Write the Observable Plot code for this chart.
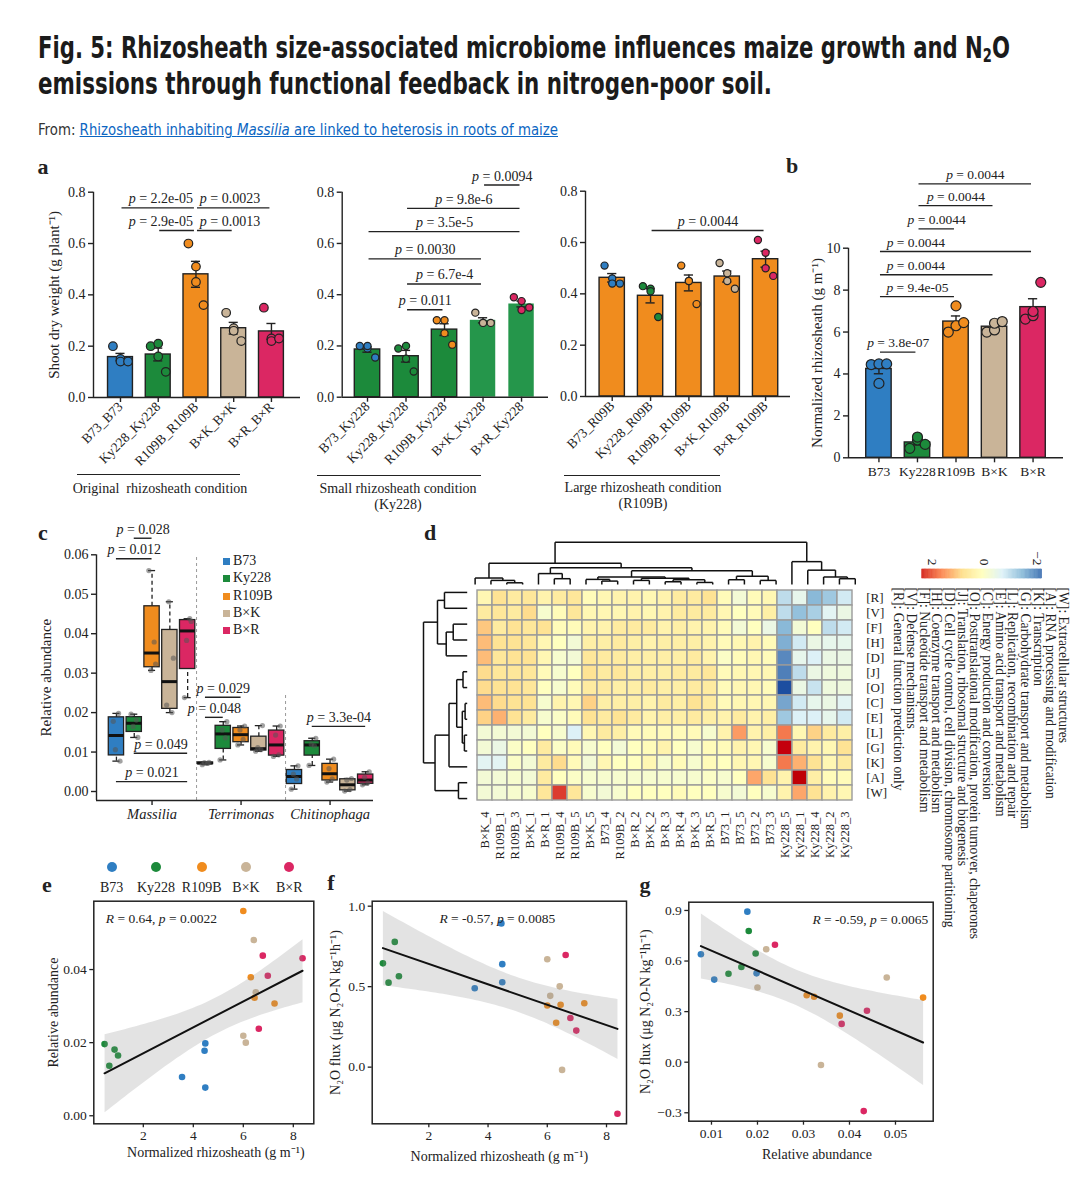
<!DOCTYPE html>
<html>
<head>
<meta charset="utf-8">
<script src="https://cdn.jsdelivr.net/npm/d3@7"></script>
<script src="https://cdn.jsdelivr.net/npm/@observablehq/plot@0.6"></script>
<style>
  body { margin: 0; background: #fff; }
  #fig { position: relative; width: 1080px; height: 1180px; overflow: hidden; background: #fff;
         font-family: "Liberation Serif", "Times New Roman", Times, serif; color: #222; }
  .abs { position: absolute; white-space: nowrap; }
  .title { font-family: "Liberation Sans Narrow", "DejaVu Sans Condensed", "Roboto", sans-serif; font-weight: 700;
           font-size: 30px; line-height: 36px; color: #1b1b1b; left: 38px; }
  .title sub { font-size: 0.62em; vertical-align: -0.22em; line-height: 0; }
  .from { font-family: "Liberation Sans Narrow", "DejaVu Sans Condensed", "Roboto", sans-serif; font-size: 15px;
          line-height: 15px; color: #333; left: 38px; top: 123px; }
  .from a { color: #0c66c2; text-decoration: underline; }
  .letter { font-weight: 700; font-size: 22px; line-height: 22px; transform: translate(-50%, -50%); }
  .cap { font-size: 14px; line-height: 15px; transform: translate(-50%, -50%); text-align: center; }
  .hline { height: 0; border-top: 1.5px solid #222; }
  .sw { width: 7px; height: 7px; }
</style>
</head>
<body>
<div id="fig"></div>
<script>
// ---------- shared categories ----------
const genotypes = ["B73", "Ky228", "R109B", "B×K", "B×R"];
const genotypeColors = ["#2f7ec2", "#1c8a3b", "#f08c1e", "#c9b498", "#db2763"];
const color = Object.fromEntries(genotypes.map((g, i) => [g, genotypeColors[i]]));

// ---------- a: shoot dry weight (g per plant), four plants per inoculum ----------
const originalLabels = ["B73_B73", "Ky228_Ky228", "R109B_R109B", "B×K_B×K", "B×R_B×R"];
const originalShoot = [[0.20, 0.15, 0.14, 0.14], [0.20, 0.21, 0.16, 0.10], [0.60, 0.51, 0.45, 0.36], [0.33, 0.27, 0.26, 0.22], [0.35, 0.23, 0.22, 0.23]];
const originalTests = [
  {from: "B73_B73", to: "R109B_R109B", y: 0.739, p: "2.2e-05"},
  {from: "R109B_R109B", to: "B×R_B×R", y: 0.739, p: "0.0023"},
  {from: "Ky228_Ky228", to: "R109B_R109B", y: 0.651, p: "2.9e-05"},
  {from: "R109B_R109B", to: "B×K_B×K", y: 0.651, p: "0.0013"}
];

const smallLabels = ["B73_Ky228", "Ky228_Ky228", "R109B_Ky228", "B×K_Ky228", "B×R_Ky228"];
const smallShoot = [[0.20, 0.19, 0.20, 0.155], [0.19, 0.20, 0.15, 0.10], [0.30, 0.30, 0.25, 0.205], [0.33, 0.29, 0.29, 0.29], [0.39, 0.375, 0.34, 0.35]];
const smallTests = [
  {from: "B×K_Ky228", to: "B×R_Ky228", y: 0.828, p: "0.0094"},
  {from: "Ky228_Ky228", to: "B×R_Ky228", y: 0.737, p: "9.8e-6"},
  {from: "B73_Ky228", to: "B×R_Ky228", y: 0.646, p: "3.5e-5"},
  {from: "B73_Ky228", to: "B×K_Ky228", y: 0.540, p: "0.0030"},
  {from: "Ky228_Ky228", to: "B×K_Ky228", y: 0.442, p: "6.7e-4"},
  {from: "Ky228_Ky228", to: "R109B_Ky228", y: 0.341, p: "0.011"}
];

const largeLabels = ["B73_R09B", "Ky228_R09B", "R109B_R109B", "B×K_R109B", "B×R_R109B"];
const largeShoot = [[0.51, 0.46, 0.44, 0.44], [0.43, 0.42, 0.41, 0.31], [0.51, 0.45, 0.45, 0.36], [0.52, 0.48, 0.45, 0.42], [0.61, 0.56, 0.50, 0.47]];
const largeTests = [{from: "Ky228_R09B", to: "B×R_R109B", y: 0.647, p: "0.0044"}];

// ---------- per-sample measurements (b, c Massilia, e, f, g) ----------
const sampleGenotype = ["B73", "B73", "B73", "B73", "Ky228", "Ky228", "Ky228", "Ky228", "R109B", "R109B", "R109B", "R109B",
                        "B×K", "B×K", "B×K", "B×K", "B×R", "B×R", "B×R", "B×R"];
const sampleRhizosheath = [4.45, 4.48, 3.55, 4.48, 0.45, 0.85, 0.99, 0.64, 6.0, 6.3, 7.25, 6.45, 6.0, 6.1, 6.42, 6.5, 6.62, 6.78, 6.98, 8.37];
const sampleMassilia = [0.0178, 0.0198, 0.0106, 0.0077, 0.0196, 0.0181, 0.0165, 0.0137, 0.0560, 0.0379, 0.0307, 0.0323,
                        0.0219, 0.0200, 0.0481, 0.0338, 0.0238, 0.0438, 0.0383, 0.0431];
const sampleN2O = [0.893, 0.527, 0.490, 0.640, 0.645, 0.778, 0.565, 0.525, 0.383, 0.276, 0.397, 0.388,
                   0.670, 0.443, 0.502, -0.017, 0.697, 0.305, 0.227, -0.290];

const rhizoTests = [
  {from: "B73", to: "Ky228", y: 5.04, p: "3.8e-07"},
  {from: "B73", to: "R109B", y: 7.69, p: "9.4e-05"},
  {from: "B73", to: "B×K", y: 8.73, p: "0.0044"},
  {from: "B73", to: "B×R", y: 9.84, p: "0.0044"},
  {from: "Ky228", to: "R109B", y: 10.92, p: "0.0044"},
  {from: "Ky228", to: "B×K", y: 12.03, p: "0.0044"},
  {from: "Ky228", to: "B×R", y: 13.07, p: "0.0044"}
];

// ---------- c: relative abundance of three genera ----------
const genera = ["Massilia", "Terrimonas", "Chitinophaga"];
const terrimonas = [[0.0068, 0.0071, 0.0073, 0.0074], [0.0080, 0.0136, 0.0156, 0.0177], [0.0118, 0.0132, 0.0156, 0.0166],
                    [0.0102, 0.0106, 0.0111, 0.0167], [0.0089, 0.0093, 0.0143, 0.0166]];
const chitinophaga = [[0.0006, 0.0032, 0.0044, 0.0065], [0.0066, 0.0116, 0.0120, 0.0135], [0.0024, 0.0032, 0.0058, 0.0082],
                      [0.0001, 0.0005, 0.0029, 0.0033], [0.0017, 0.0022, 0.0036, 0.0050]];
const abundanceTests = [
  {genus: "Massilia", from: "Ky228", to: "R109B", y: 0.0642, p: "0.028"},
  {genus: "Massilia", from: "B73", to: "R109B", y: 0.0590, p: "0.012"},
  {genus: "Massilia", from: "Ky228", to: "B×R", y: 0.0097, p: "0.049"},
  {genus: "Massilia", from: "B73", to: "B×R", y: 0.0025, p: "0.021"},
  {genus: "Terrimonas", from: "B73", to: "R109B", y: 0.0239, p: "0.029"},
  {genus: "Terrimonas", from: "B73", to: "Ky228", y: 0.0188, p: "0.048"},
  {genus: "Chitinophaga", from: "Ky228", to: "B×R", y: 0.0165, p: "3.3e-04"}
];

// ---------- d: COG category z-scores ----------
const cogCodes = ["R", "V", "F", "H", "D", "J", "O", "C", "E", "L", "G", "K", "A", "W"];
const heatSamples = ["B×K_4", "R109B_1", "R109B_3", "B×K_1", "B×R_1", "R109B_4", "R109B_5", "B×K_5", "B73_4", "R109B_2",
                     "B×R_2", "B×K_2", "B×R_3", "B×R_4", "B×K_3", "B×R_5", "B73_1", "B73_5", "B73_2", "B73_3",
                     "Ky228_5", "Ky228_1", "Ky228_4", "Ky228_2", "Ky228_3"];
const zScores = [
  [0.3, 0.8, 0.6, 0.7, 0.4, 0.6, 0.7, 0.2, 0.3, 0.4, 0.4, 0.3, 0.4, 0.6, 0.6, 0.8, 0.2, -0.2, 0.2, 0.3, -1.0, -0.5, -1.5, -1.3, -0.8],
  [0.6, 0.7, 0.6, 0.9, -0.1, 0.2, 0.7, 0.3, 0.3, 0.3, 0.4, 0.3, 0.4, 0.6, 0.6, 0.6, 0.3, 0.1, 0.2, 0.5, -1.0, -1.4, -1.2, -0.6, -0.4],
  [1.1, 0.6, 0.8, 0.7, 0.8, 0.2, 0.2, 0.4, 0.4, 0.6, 0.6, 0.6, 0.4, 0.5, 0.4, 0.4, 0.2, -0.2, 0.1, -0.4, -1.5, -0.2, 0.1, -1.0, -0.8],
  [1.2, 0.8, 0.8, 0.7, 0.3, 0.1, -0.2, 0.5, 0.5, 0.6, 0.5, 0.4, 0.5, 0.5, 0.5, 0.4, 0.2, 0.3, 0.4, 0.2, -1.6, -0.8, -0.4, -0.5, -0.5],
  [1.2, 0.7, 0.8, 0.8, 0.3, -0.1, -0.2, 0.7, 0.6, 0.6, 0.5, 0.5, 0.5, 0.5, 0.6, 0.4, 0.0, 0.2, 0.3, 0.2, -2.0, -0.5, -0.7, -0.4, -0.4],
  [0.9, 0.7, 0.7, 0.7, 0.2, -0.1, 0.1, 0.8, 0.6, 0.7, 0.5, 0.5, 0.5, 0.6, 0.6, 0.7, 0.2, 0.3, 0.3, 0.3, -2.1, -1.0, -0.4, -0.3, -0.3],
  [0.9, 0.8, 0.8, 0.7, 0.1, -0.1, 0.2, 0.6, 0.6, 0.5, 0.5, 0.6, 0.5, 0.5, 0.6, 0.6, 0.2, 0.3, 0.3, 0.2, -2.6, -0.4, -0.9, -0.3, -0.3],
  [1.2, 0.9, 0.8, 0.8, -0.1, 0.4, 0.3, 1.0, 0.5, 0.5, 0.5, 0.4, 0.6, 0.5, 0.8, 0.6, 0.2, 0.3, 0.3, 0.3, -1.7, -0.8, -0.5, -0.4, -0.6],
  [1.0, 1.3, 0.8, 0.6, -0.1, 0.0, 0.2, 0.8, 0.6, 0.8, 0.6, 0.4, 0.5, 0.5, 0.6, 0.5, 0.4, 0.6, 0.4, 0.5, -1.3, -0.7, -0.7, -0.5, -0.8],
  [-0.2, -0.2, -0.2, -0.2, 0.1, -0.1, -0.7, 0.3, 0.6, 0.5, 0.2, 0.2, 0.2, 0.2, 0.2, -0.1, 0.4, 1.5, 0.4, 0.5, 1.8, 0.3, 1.0, 0.6, 0.5],
  [-0.2, -0.4, 0.0, 0.1, 0.6, 0.0, 0.2, -0.1, 0.1, -0.2, 0.1, 0.2, 0.4, 0.1, -0.1, 0.2, 0.2, 0.4, 0.3, -0.1, 2.8, 0.6, 0.4, 0.3, 0.8],
  [-0.6, -0.6, 0.0, -0.2, 0.6, 0.9, 0.2, -0.2, 0.3, 0.1, 0.1, 0.3, -0.1, 0.2, -0.1, 0.2, 0.1, 0.3, 0.3, -0.1, 1.8, 1.3, 0.8, 0.3, 0.6],
  [-0.2, -0.2, -0.1, -0.2, 0.6, 0.1, 0.0, -0.1, -0.1, -0.1, -0.1, -0.1, -0.1, -0.1, -0.1, 0.0, -0.1, 0.1, 1.4, 0.8, 0.4, 2.9, 0.5, 0.2, 0.2],
  [-0.2, -0.2, -0.1, -0.1, 0.7, 2.3, 0.7, -0.1, -0.2, -0.1, 0.1, 0.1, 0.1, 0.2, 0.1, 0.1, -0.1, -0.2, 0.1, -0.1, 0.4, 1.4, 0.8, 0.4, 0.3]
];
// hierarchical clustering trees: [left, right, height]; leaves are column / row indices
const sampleTree = [
  [[0, [1, [2, 3, 5], 12], 19],
   [[4, [5, 6, 17], 32],
    [[[7, [8, 9, 10], 15], [[10, 11, 12], [[12, 13, 8], [14, 15, 6], 14], 18], 22],
     [[16, 17, 14], [18, 19, 12], 24], 40], 49], 62],
  [20, [21, [22, [23, 24, 17], 22], 42], 67], 124];
const cogTree = [
  [[0, 1, 25], [2, [[[3, 4, 8], [5, 6, 6], 14], [7, 8, 12], 30], 52], 92],
  [[9, [10, 11, 40], 60], [12, 13, 65], 85], 125];
const cogLegendCodes = ["W", "A", "K", "G", "L", "E", "C", "O", "J", "D", "H", "F", "V", "R"];
const cogLegendNames = ["Extracellular structures", "RNA processing and modification", "Transcription",
  "Carbohydrate transport and metabolism", "Replication, recombination and repair", "Amino acid transport and metabolism",
  "Energy production and conversion", "Posttranslational modification, protein turnover, chaperones",
  "Translation, ribosomal structure and biogenesis", "Cell cycle control, cell division, chromosome partitioning",
  "Coenzyme transport and metabolism", "Nucleotide transport and metabolism", "Defense mechanisms",
  "General function prediction only"];

// ---------- helpers ----------
const fig = document.getElementById("fig");
const serif = '"Liberation Serif", "Times New Roman", Times, serif';
const baseStyle = {fontFamily: serif, fontSize: "14px", color: "#222", background: "transparent", overflow: "visible"};
const ink = "#222";

function italicize(root) {
  root.querySelectorAll("text").forEach(t => {
    if (t.querySelector("tspan")) return;
    const s = t.textContent;
    if (!/\b[pR](?= =)/.test(s)) return;
    t.textContent = "";
    s.split(/\b([pR])(?= =)/).forEach((part, i) => {
      if (!part) return;
      const span = document.createElementNS("http://www.w3.org/2000/svg", "tspan");
      if (i % 2 === 1) span.setAttribute("font-style", "italic");
      span.textContent = part;
      t.appendChild(span);
    });
  });
}
function place(node, left, top) {
  node.style.position = "absolute";
  node.style.left = left + "px";
  node.style.top = top + "px";
  fig.appendChild(node);
  italicize(node);
  return node;
}
function html(markup, left, top, cls = "", css = "") {
  const div = document.createElement("div");
  div.className = "abs " + cls;
  div.style.cssText += `left:${left}px;top:${top}px;${css}`;
  div.innerHTML = markup;
  fig.appendChild(div);
  return div;
}
function fitWidth(el, target) {
  const w = el.getBoundingClientRect().width;
  el.style.transformOrigin = "0 0";
  el.style.transform = `scaleX(${target / w})`;
}
function fivenum(v) {
  const x = [...v].sort(d3.ascending), n = x.length, n4 = Math.floor((n + 3) / 2) / 2;
  return [1, n4, (n + 1) / 2, n + 1 - n4, n].map(p => 0.5 * (x[Math.floor(p) - 1] + x[Math.ceil(p) - 1]));
}
function dendroSegments(tree) {
  const segs = [];
  (function walk(n) {
    if (typeof n === "number") return {p: n, h: 0};
    const [a, b, h] = n, L = walk(a), R = walk(b);
    segs.push({p1: L.p, h1: L.h, p2: L.p, h2: h}, {p1: R.p, h1: R.h, p2: R.p, h2: h}, {p1: L.p, h1: h, p2: R.p, h2: h});
    return {p: (L.p + R.p) / 2, h};
  })(tree);
  return segs;
}

// ---------- bar chart with points, SE bars and comparison brackets ----------
const barJitter = [-0.2, 0, 0, 0.2];
function barPanel(o) {
  const n = o.labels.length;
  const stats = o.values.map((v, i) => ({i, mean: d3.mean(v), se: d3.deviation(v) / Math.sqrt(v.length)}));
  const pts = o.values.flatMap((v, i) => v.map((y, j) => ({x: i + barJitter[j], y, g: genotypes[i]})));
  const idx = name => o.labels.indexOf(name);
  const align = (d, i) => (o.align && o.align[i]) || "middle";
  const labelX = (d, i) => align(d, i) === "end" ? idx(d.to) - 0.08
    : align(d, i) === "start" ? idx(d.from) + (o.startInset ?? 0.1)
    : (idx(d.from) + idx(d.to)) / 2;
  const hw = 0.33;
  const tests = o.tests.map((d, i) => ({...d, lx: labelX(d, i), anchor: align(d, i)}));
  return Plot.plot({
    width: o.width, height: o.height,
    marginLeft: o.ml, marginRight: o.mr, marginTop: o.mt, marginBottom: o.mb,
    style: baseStyle,
    color: {type: "identity"},
    x: {domain: o.xDomain, axis: null},
    y: {domain: o.yDomain, axis: null},
    marks: [
      Plot.rectY(stats, {x1: d => d.i - hw, x2: d => d.i + hw, y1: 0, y2: "mean", fill: d => o.fills[d.i]}),
      Plot.rectY(stats.filter(d => o.outlined[d.i]), {x1: d => d.i - hw, x2: d => d.i + hw, y1: 0, y2: "mean", fill: "none", stroke: ink, strokeWidth: 1.4}),
      Plot.ruleX(stats, {x: "i", y1: d => d.mean - d.se, y2: d => d.mean + d.se, stroke: ink, strokeWidth: 1.4}),
      Plot.ruleY(stats, {x1: d => d.i - 0.12, x2: d => d.i + 0.12, y: d => d.mean + d.se, stroke: ink, strokeWidth: 1.4}),
      Plot.ruleY(stats, {x1: d => d.i - 0.12, x2: d => d.i + 0.12, y: d => d.mean - d.se, stroke: ink, strokeWidth: 1.4}),
      Plot.dot(pts, {x: "x", y: "y", fill: d => color[d.g], stroke: ink, strokeWidth: 1.2, r: o.r}),
      Plot.ruleY(tests, {x1: d => idx(d.from) + 0.04, x2: d => idx(d.to) - 0.04, y: "y", stroke: ink, strokeWidth: 1.4}),
      ...["middle", "start", "end"].map(a => Plot.text(tests.filter(d => d.anchor === a),
        {x: "lx", y: "y", text: d => `p = ${d.p}`, dy: -9, fontSize: o.pSize ?? 14, textAnchor: a})),
      Plot.ruleY([o.yDomain[0]], {stroke: ink, strokeWidth: 1.4}),
      Plot.ruleX([o.xDomain[0]], {stroke: ink, strokeWidth: 1.4}),
      Plot.axisY({ticks: o.yTicks, tickFormat: o.yFormat, tickSize: 5, tickPadding: 3, fontSize: 14, label: null, strokeWidth: 1.4}),
      Plot.axisX({ticks: d3.range(n), tickFormat: i => o.labels[i], tickSize: 5, tickPadding: o.rotate ? 2 : 4,
                  tickRotate: o.rotate, fontSize: 13.5, label: null, strokeWidth: 1.4}),
      o.yLabel ? Plot.text([o.yLabel], {frameAnchor: "left", rotate: -90, dx: -o.labelOffset, textAnchor: "middle", fontSize: 15}) : null
    ]
  });
}

// ---------- header ----------
const t1 = html("Fig. 5: Rhizosheath size-associated microbiome influences maize growth and N<sub>2</sub>O", 0, 30, "title");
const t2 = html("emissions through functional feedback in nitrogen-poor soil.", 0, 66, "title");
t1.style.left = t2.style.left = "38px";
const fromLine = html('From: <a>Rhizosheath inhabiting <i>Massilia</i> are linked to heterosis in roots of maize</a>', 38, 123, "from");
fitWidth(t1, 972); fitWidth(t2, 734); fitWidth(fromLine, 520);

// ---------- panel a ----------
place(barPanel({labels: originalLabels, values: originalShoot, fills: genotypeColors, outlined: [1, 1, 1, 1, 1],
  tests: originalTests, align: ["end", "start", "end", "start"], width: 290, height: 320, ml: 63, mr: 20, mt: 41.7, mb: 73,
  xDomain: [-0.715, 4.77], yDomain: [0, 0.8], yTicks: [0, 0.2, 0.4, 0.6, 0.8], yFormat: d3.format(".1f"),
  rotate: -45, r: 4.3, yLabel: "Shoot dry weight (g plant⁻¹)", labelOffset: 39}), 30, 150);
place(barPanel({labels: smallLabels, values: smallShoot, fills: ["#1c8a3b", "#1c8a3b", "#1c8a3b", "#25964b", "#25964b"],
  outlined: [1, 1, 1, 0, 0], tests: smallTests, width: 270, height: 320, ml: 51.7, mr: 12, mt: 41.7, mb: 73.3,
  xDomain: [-0.657, 4.70], yDomain: [0, 0.8], yTicks: [0, 0.2, 0.4, 0.6, 0.8], yFormat: d3.format(".1f"),
  rotate: -45, r: 3.6}), 290, 150);
place(barPanel({labels: largeLabels, values: largeShoot, fills: Array(5).fill("#f08c1e"), outlined: [1, 1, 1, 1, 1],
  tests: largeTests, width: 260, height: 320, ml: 45, mr: 10, mt: 40.7, mb: 74,
  xDomain: [-0.697, 4.65], yDomain: [0, 0.8], yTicks: [0, 0.2, 0.4, 0.6, 0.8], yFormat: d3.format(".1f"),
  rotate: -45, r: 3.6}), 540, 150);

// condition captions under panel a
html("", 77, 474, "hline", "width:163px");
html("Original&nbsp; rhizosheath condition", 160, 488, "cap");
html("", 317, 475, "hline", "width:164px");
html("Small rhizosheath condition<br>(Ky228)", 398, 497, "cap", "line-height:16px");
html("", 564, 475, "hline", "width:156px");
html("Large rhizosheath condition<br>(R109B)", 643, 496, "cap", "line-height:16px");

// ---------- panel b ----------
const rhizoByGenotype = genotypes.map(g => sampleRhizosheath.filter((v, i) => sampleGenotype[i] === g));
place(barPanel({labels: genotypes, values: rhizoByGenotype, fills: genotypeColors, outlined: [1, 1, 1, 1, 1],
  tests: rhizoTests, align: ["middle", "middle", "start", "start", "middle", "middle", "middle"], startInset: 0.2, pSize: 13.5,
  width: 300, height: 340, ml: 68, mr: 17, mt: 97.7, mb: 32.7,
  xDomain: [-0.79, 4.79], yDomain: [0, 10], yTicks: [0, 2, 4, 6, 8, 10], yFormat: d3.format("d"),
  rotate: 0, r: 5, yLabel: "Normalized rhizosheath (g m⁻¹)", labelOffset: 31}), 780, 150);

// ---------- panel c ----------
const massiliaByGenotype = genotypes.map(g => sampleMassilia.filter((v, i) => sampleGenotype[i] === g));
const genusValues = [massiliaByGenotype, terrimonas, chitinophaga];
const boxJitter = [-0.18, 0.12, -0.06, 0.2];
const boxStats = [], boxPts = [];
genera.forEach((gen, gi) => genotypes.forEach((g, k) => {
  const vals = genusValues[gi][k];
  const [, q1, med, q3] = fivenum(vals);
  const iqr = q3 - q1;
  const lo = d3.min(vals.filter(v => v >= q1 - 1.5 * iqr));
  const hi = d3.max(vals.filter(v => v <= q3 + 1.5 * iqr));
  const x = gi * 5 + k;
  boxStats.push({x, g, q1, med, q3, lo, hi});
  vals.forEach((v, j) => boxPts.push({x: x + boxJitter[j], v}));
}));
const posOf = (genus, g) => genera.indexOf(genus) * 5 + genotypes.indexOf(g);
const cY = [-0.00228, 0.06], cX = [-1.12, 14.44];
place(Plot.plot({
  width: 360, height: 315, marginLeft: 66, marginRight: 17, marginTop: 39.3, marginBottom: 30,
  style: baseStyle, color: {type: "identity"},
  x: {domain: cX, axis: null}, y: {domain: cY, axis: null},
  marks: [
    Plot.ruleX([4.5], {y1: cY[0], y2: cY[1], stroke: "#9a9a9a", strokeDasharray: "3,3"}),
    Plot.ruleX([9.5], {y1: cY[0], y2: 0.0245, stroke: "#9a9a9a", strokeDasharray: "3,3"}),
    Plot.ruleX(boxStats, {x: "x", y1: "q3", y2: "hi", stroke: ink, strokeWidth: 1.3, strokeDasharray: "4,3"}),
    Plot.ruleX(boxStats, {x: "x", y1: "lo", y2: "q1", stroke: ink, strokeWidth: 1.3, strokeDasharray: "4,3"}),
    Plot.ruleY(boxStats, {x1: d => d.x - 0.2, x2: d => d.x + 0.2, y: "hi", stroke: ink, strokeWidth: 1.3}),
    Plot.ruleY(boxStats, {x1: d => d.x - 0.2, x2: d => d.x + 0.2, y: "lo", stroke: ink, strokeWidth: 1.3}),
    Plot.rectY(boxStats, {x1: d => d.x - 0.43, x2: d => d.x + 0.43, y1: "q1", y2: "q3", fill: d => color[d.g], stroke: ink, strokeWidth: 1.3}),
    Plot.ruleY(boxStats, {x1: d => d.x - 0.43, x2: d => d.x + 0.43, y: "med", stroke: "#111", strokeWidth: 3}),
    Plot.dot(boxPts, {x: "x", y: "v", r: 2.6, fill: "#555", fillOpacity: 0.55}),
    Plot.ruleY(abundanceTests, {x1: d => posOf(d.genus, d.from), x2: d => posOf(d.genus, d.to), y: "y", stroke: ink, strokeWidth: 1.4}),
    Plot.text(abundanceTests, {x: d => (posOf(d.genus, d.from) + posOf(d.genus, d.to)) / 2, y: "y", text: d => `p = ${d.p}`, dy: -9, fontSize: 14}),
    Plot.ruleY([cY[0]], {stroke: ink, strokeWidth: 1.4}),
    Plot.ruleX([cX[0]], {stroke: ink, strokeWidth: 1.4}),
    Plot.axisY({ticks: [0, 0.01, 0.02, 0.03, 0.04, 0.05, 0.06], tickFormat: d3.format(".2f"), tickSize: 5, tickPadding: 3, fontSize: 14, label: null, strokeWidth: 1.4}),
    Plot.axisX({ticks: [2, 7, 12], tickFormat: i => genera[Math.round(i / 5)], tickSize: 5, tickPadding: 3, fontSize: 14.5, fontStyle: "italic", label: null, strokeWidth: 1.4}),
    Plot.text(["Relative abundance"], {frameAnchor: "left", rotate: -90, dx: -50, textAnchor: "middle", fontSize: 15})
  ]
}), 30, 515);
// legend for c
genotypes.forEach((g, i) => {
  html("", 223, 558 + i * 17.3, "sw", `background:${color[g]}`);
  html(g, 233, 553 + i * 17.3, "", "font-size:14px;line-height:16px");
});

// ---------- panel d ----------
const heatStops = d3.range(7).map(i => -2.2 + i * 4.6 / 6);
const heatColor = {type: "linear", domain: heatStops, range: ["#4575b4", "#91bfdb", "#e0f3f8", "#ffffbf", "#fee090", "#fc8d59", "#d73027"]};
const cells = cogCodes.flatMap((c, i) => heatSamples.map((s, j) => ({cog: c, sample: s, z: zScores[i][j]})));
place(Plot.plot({
  width: 460, height: 300, marginLeft: 26.7, marginRight: 37.3, marginTop: 14, marginBottom: 64,
  style: baseStyle,
  x: {domain: heatSamples, padding: 0, axis: null},
  y: {domain: cogCodes, padding: 0, axis: null},
  color: heatColor,
  marks: [
    Plot.cell(cells, {x: "sample", y: "cog", fill: "z", stroke: "#9b9b9b", strokeWidth: 1.4}),
    Plot.axisX({anchor: "bottom", tickSize: 0, tickPadding: 5, tickRotate: -90, fontSize: 12.5, label: null}),
    Plot.axisY({anchor: "right", tickSize: 0, tickPadding: 3, tickFormat: d => `[${d}]`, fontSize: 13, label: null})
  ]
}), 440, 570);
// sample dendrogram (top)
place(Plot.plot({
  width: 410, height: 50, marginLeft: 6.7, marginRight: 7.3, marginTop: 5.7, marginBottom: 2,
  style: baseStyle,
  x: {domain: [-0.5, 24.5], axis: null}, y: {domain: [0, 124], axis: null},
  marks: [Plot.link(dendroSegments(sampleTree), {x1: "p1", y1: "h1", x2: "p2", y2: "h2", stroke: "#111", strokeWidth: 1.5})]
}), 460, 536);
// COG dendrogram (left)
place(Plot.plot({
  width: 52, height: 230, marginLeft: 5, marginRight: 3.3, marginTop: 4, marginBottom: 4,
  style: baseStyle,
  x: {domain: [125, 0], axis: null}, y: {domain: [-0.5, 13.5], axis: null},
  marks: [Plot.link(dendroSegments(cogTree), {x1: "h1", y1: "p1", x2: "h2", y2: "p2", stroke: "#111", strokeWidth: 1.5})]
}), 418, 580);
// colour key
const ramp = d3.range(-2.2, 2.4, 0.05);
place(Plot.plot({
  width: 160, height: 45, marginLeft: 21.7, marginRight: 18.3, marginTop: 29, marginBottom: 7,
  style: baseStyle, color: heatColor,
  x: {domain: [2.4, -2.2], axis: null}, y: {domain: [0, 1], axis: null},
  marks: [
    Plot.rect(ramp, {x1: d => d, x2: d => d + 0.05, y1: 0, y2: 1, fill: d => d + 0.025, stroke: d => d + 0.025, strokeWidth: 0.6}),
    Plot.text([2, 0, -2], {x: d => d, y: 1, dy: -4, rotate: 90, textAnchor: "end", text: d => d3.format("d")(d), fontSize: 13.5})
  ]
}), 900, 540);
// COG category key (rotated)
place(Plot.plot({
  width: 195, height: 380, marginLeft: 0, marginRight: 0, marginTop: 0, marginBottom: 0,
  style: baseStyle,
  x: {domain: [0, 13], range: [178, 13], axis: null}, y: {domain: [0, 1], range: [7, 380], axis: null},
  marks: [Plot.text(cogLegendCodes, {x: (d, i) => i, y: 0, rotate: 90, textAnchor: "start", fontSize: 13.6,
    text: (d, i) => `[${d}]: ${cogLegendNames[i]}`})]
}), 885, 580);

// ---------- panels e, f, g ----------
const samples = sampleGenotype.map((g, i) => ({g, rhizo: sampleRhizosheath[i], massilia: sampleMassilia[i], n2o: sampleN2O[i]}));
function scatterPanel(o) {
  return Plot.plot({
    width: o.width, height: o.height, marginLeft: o.ml, marginRight: o.mr, marginTop: o.mt, marginBottom: o.mb,
    style: baseStyle, color: {type: "identity"},
    x: {domain: o.xDomain, axis: null}, y: {domain: o.yDomain, axis: null},
    marks: [
      Plot.dot(samples, {x: o.x, y: o.y, fill: d => color[d.g], r: 3.3}),
      Plot.linearRegressionY(samples, {x: o.x, y: o.y, stroke: "#111", strokeWidth: 2, fill: "#8a8a8a", fillOpacity: 0.24}),
      Plot.frame({stroke: ink, strokeWidth: 1.5}),
      Plot.axisX({ticks: o.xTicks, tickFormat: o.xFormat, tickSize: 4, tickPadding: 3, fontSize: 13.5, label: null, strokeWidth: 1.3}),
      Plot.axisY({ticks: o.yTicks, tickFormat: o.yFormat, tickSize: 4, tickPadding: 3, fontSize: 13.5, label: null, strokeWidth: 1.3}),
      Plot.text([o.xLabel], {frameAnchor: "bottom", dy: o.xLabelDy, dx: o.xLabelDx, fontSize: 14}),
      Plot.text([o.yLabel], {frameAnchor: "left", rotate: -90, dx: -o.yLabelOffset, textAnchor: "middle", fontSize: 14}),
      Plot.text([o.stat], {frameAnchor: o.statAnchor, dx: o.statDx, dy: 12, textAnchor: o.statTextAnchor, fontSize: 13.5})
    ]
  });
}
place(scatterPanel({width: 290, height: 270, ml: 53.3, mr: 16.7, mt: 5.7, mb: 41.7,
  x: "rhizo", y: "massilia", xDomain: [0.02, 8.82], yDomain: [-0.0022, 0.0587],
  xTicks: [2, 4, 6, 8], xFormat: d3.format("d"), yTicks: [0, 0.02, 0.04], yFormat: d3.format(".2f"),
  xLabel: "Normalized rhizosheath (g m⁻¹)", xLabelDy: 33, xLabelDx: 12, yLabel: "Relative abundance", yLabelOffset: 40,
  stat: "R = 0.64, p = 0.0022", statAnchor: "top-left", statDx: 12, statTextAnchor: "start"}), 40, 895);
place(scatterPanel({width: 320, height: 275, ml: 51.7, mr: 14, mt: 5.7, mb: 46.7,
  x: "rhizo", y: "n2o", xDomain: [0.088, 8.675], yDomain: [-0.352, 1.031],
  xTicks: [2, 4, 6, 8], xFormat: d3.format("d"), yTicks: [0, 0.5, 1], yFormat: d3.format(".1f"),
  xLabel: "Normalized rhizosheath (g m⁻¹)", xLabelDy: 37, xLabelDx: 0, yLabel: "N₂O flux (μg N₂O-N kg⁻¹h⁻¹)", yLabelOffset: 37,
  stat: "R = -0.57, p = 0.0085", statAnchor: "top", statDx: -2, statTextAnchor: "middle"}), 320, 895);
place(scatterPanel({width: 320, height: 275, ml: 58.3, mr: 17.3, mt: 6.7, mb: 49.3,
  x: "massilia", y: "n2o", xDomain: [0.00507, 0.0582], yDomain: [-0.35, 0.949],
  xTicks: [0.01, 0.02, 0.03, 0.04, 0.05], xFormat: d3.format(".2f"), yTicks: [-0.3, 0, 0.3, 0.6, 0.9], yFormat: d3.format(".1f"),
  xLabel: "Relative abundance", xLabelDy: 38, xLabelDx: 6, yLabel: "N₂O flux (μg N₂O-N kg⁻¹h⁻¹)", yLabelOffset: 43,
  stat: "R = -0.59, p = 0.0065", statAnchor: "top-right", statDx: -5, statTextAnchor: "end"}), 630, 895);
// shared genotype key above e
genotypes.forEach((g, i) => {
  const cx = [111.7, 156, 201.7, 246, 289.3][i];
  html("", cx - 5, 861.7, "", `width:10px;height:10px;border-radius:50%;background:${color[g]}`);
  html(g, cx, 887, "cap", "font-size:14px");
});

// ---------- panel letters ----------
[["a", 43, 167], ["b", 792, 166], ["c", 43, 533], ["d", 430, 533], ["e", 47, 885], ["f", 331, 883], ["g", 645, 885]]
  .forEach(([s, x, y]) => html(s, x, y, "letter"));
</script>
</body>
</html>
